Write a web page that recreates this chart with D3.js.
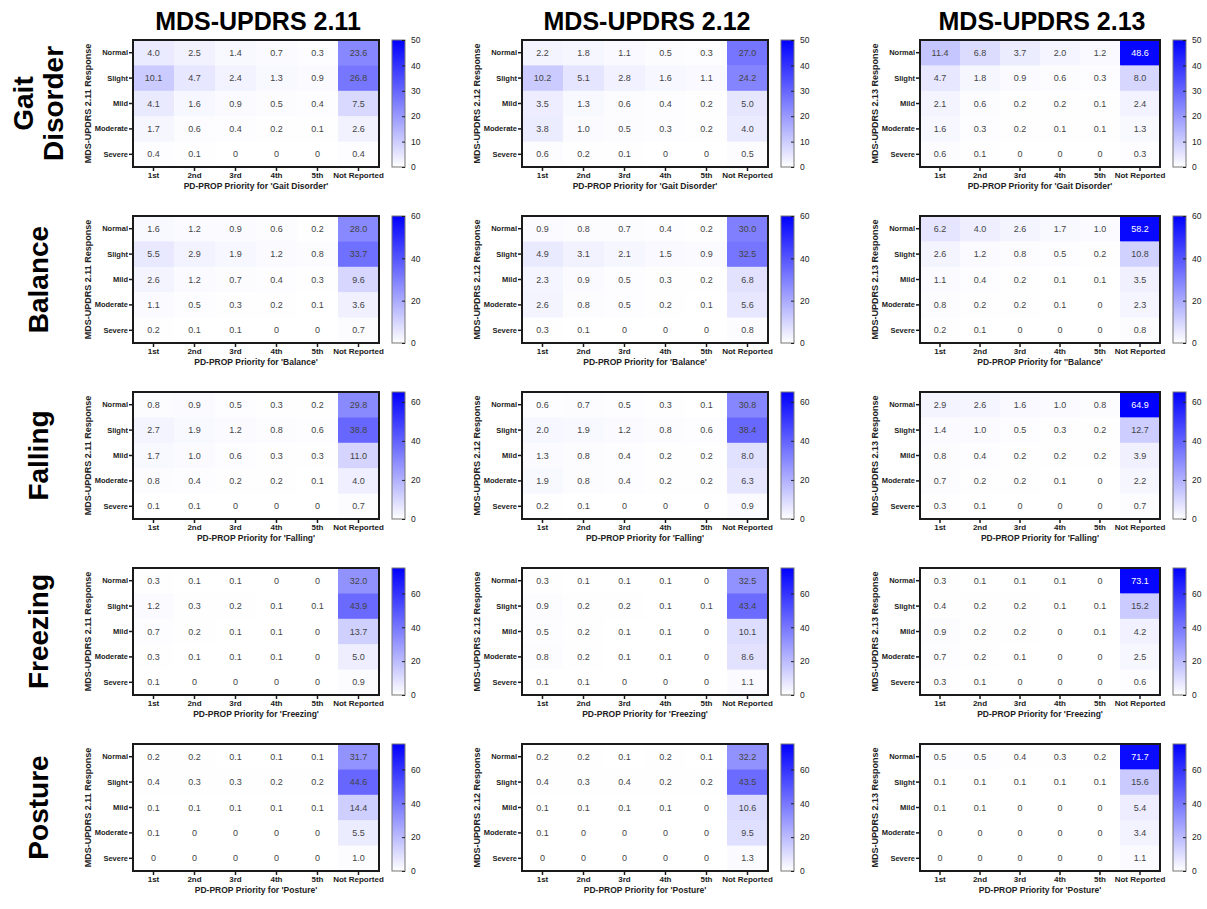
<!DOCTYPE html>
<html>
<head>
<meta charset="utf-8">
<script src="https://cdn.jsdelivr.net/npm/d3@7"></script>
<style>
  body { margin: 0; background: #fff; }
  svg { display: block; font-family: "Liberation Sans", Arial, sans-serif; }
  .tick text { fill: #222; }
</style>
</head>
<body>
<svg id="chart" width="1207" height="909"></svg>
<script>
// categories
var priorities = ["1st", "2nd", "3rd", "4th", "5th", "Not Reported"];
var responses = ["Normal", "Slight", "Mild", "Moderate", "Severe"];
var scaleNames = ["MDS-UPDRS 2.11", "MDS-UPDRS 2.12", "MDS-UPDRS 2.13"];
var items = ["Gait Disorder", "Balance", "Falling", "Freezing", "Posture"];
var itemLabels = [["Gait", "Disorder"], ["Balance"], ["Falling"], ["Freezing"], ["Posture"]];

// colour bar ranges per item row
var colorMax = [50, 60, 65, 75, 75];
var colorTicks = [[0, 10, 20, 30, 40, 50], [0, 20, 40, 60], [0, 20, 40, 60], [0, 20, 40, 60], [0, 20, 40, 60]];

// values (%), rows = responses, columns = priorities
var gait211 = [[4.0, 2.5, 1.4, 0.7, 0.3, 23.6], [10.1, 4.7, 2.4, 1.3, 0.9, 26.8], [4.1, 1.6, 0.9, 0.5, 0.4, 7.5], [1.7, 0.6, 0.4, 0.2, 0.1, 2.6], [0.4, 0.1, 0, 0, 0, 0.4]];
var gait212 = [[2.2, 1.8, 1.1, 0.5, 0.3, 27.0], [10.2, 5.1, 2.8, 1.6, 1.1, 24.2], [3.5, 1.3, 0.6, 0.4, 0.2, 5.0], [3.8, 1.0, 0.5, 0.3, 0.2, 4.0], [0.6, 0.2, 0.1, 0, 0, 0.5]];
var gait213 = [[11.4, 6.8, 3.7, 2.0, 1.2, 48.6], [4.7, 1.8, 0.9, 0.6, 0.3, 8.0], [2.1, 0.6, 0.2, 0.2, 0.1, 2.4], [1.6, 0.3, 0.2, 0.1, 0.1, 1.3], [0.6, 0.1, 0, 0, 0, 0.3]];
var balance211 = [[1.6, 1.2, 0.9, 0.6, 0.2, 28.0], [5.5, 2.9, 1.9, 1.2, 0.8, 33.7], [2.6, 1.2, 0.7, 0.4, 0.3, 9.6], [1.1, 0.5, 0.3, 0.2, 0.1, 3.6], [0.2, 0.1, 0.1, 0, 0, 0.7]];
var balance212 = [[0.9, 0.8, 0.7, 0.4, 0.2, 30.0], [4.9, 3.1, 2.1, 1.5, 0.9, 32.5], [2.3, 0.9, 0.5, 0.3, 0.2, 6.8], [2.6, 0.8, 0.5, 0.2, 0.1, 5.6], [0.3, 0.1, 0, 0, 0, 0.8]];
var balance213 = [[6.2, 4.0, 2.6, 1.7, 1.0, 58.2], [2.6, 1.2, 0.8, 0.5, 0.2, 10.8], [1.1, 0.4, 0.2, 0.1, 0.1, 3.5], [0.8, 0.2, 0.2, 0.1, 0, 2.3], [0.2, 0.1, 0, 0, 0, 0.8]];
var falling211 = [[0.8, 0.9, 0.5, 0.3, 0.2, 29.8], [2.7, 1.9, 1.2, 0.8, 0.6, 38.8], [1.7, 1.0, 0.6, 0.3, 0.3, 11.0], [0.8, 0.4, 0.2, 0.2, 0.1, 4.0], [0.1, 0.1, 0, 0, 0, 0.7]];
var falling212 = [[0.6, 0.7, 0.5, 0.3, 0.1, 30.8], [2.0, 1.9, 1.2, 0.8, 0.6, 38.4], [1.3, 0.8, 0.4, 0.2, 0.2, 8.0], [1.9, 0.8, 0.4, 0.2, 0.2, 6.3], [0.2, 0.1, 0, 0, 0, 0.9]];
var falling213 = [[2.9, 2.6, 1.6, 1.0, 0.8, 64.9], [1.4, 1.0, 0.5, 0.3, 0.2, 12.7], [0.8, 0.4, 0.2, 0.2, 0.2, 3.9], [0.7, 0.2, 0.2, 0.1, 0, 2.2], [0.3, 0.1, 0, 0, 0, 0.7]];
var freezing211 = [[0.3, 0.1, 0.1, 0, 0, 32.0], [1.2, 0.3, 0.2, 0.1, 0.1, 43.9], [0.7, 0.2, 0.1, 0.1, 0, 13.7], [0.3, 0.1, 0.1, 0.1, 0, 5.0], [0.1, 0, 0, 0, 0, 0.9]];
var freezing212 = [[0.3, 0.1, 0.1, 0.1, 0, 32.5], [0.9, 0.2, 0.2, 0.1, 0.1, 43.4], [0.5, 0.2, 0.1, 0.1, 0, 10.1], [0.8, 0.2, 0.1, 0.1, 0, 8.6], [0.1, 0.1, 0, 0, 0, 1.1]];
var freezing213 = [[0.3, 0.1, 0.1, 0.1, 0, 73.1], [0.4, 0.2, 0.2, 0.1, 0.1, 15.2], [0.9, 0.2, 0.2, 0, 0.1, 4.2], [0.7, 0.2, 0.1, 0, 0, 2.5], [0.3, 0.1, 0, 0, 0, 0.6]];
var posture211 = [[0.2, 0.2, 0.1, 0.1, 0.1, 31.7], [0.4, 0.3, 0.3, 0.2, 0.2, 44.6], [0.1, 0.1, 0.1, 0.1, 0.1, 14.4], [0.1, 0, 0, 0, 0, 5.5], [0, 0, 0, 0, 0, 1.0]];
var posture212 = [[0.2, 0.2, 0.1, 0.2, 0.1, 32.2], [0.4, 0.3, 0.4, 0.2, 0.2, 43.5], [0.1, 0.1, 0.1, 0.1, 0, 10.6], [0.1, 0, 0, 0, 0, 9.5], [0, 0, 0, 0, 0, 1.3]];
var posture213 = [[0.5, 0.5, 0.4, 0.3, 0.2, 71.7], [0.1, 0.1, 0.1, 0.1, 0.1, 15.6], [0.1, 0.1, 0, 0, 0, 5.4], [0, 0, 0, 0, 0, 3.4], [0, 0, 0, 0, 0, 1.1]];

var grid = [
	[gait211, gait212, gait213],
	[balance211, balance212, balance213],
	[falling211, falling212, falling213],
	[freezing211, freezing212, freezing213],
	[posture211, posture212, posture213]
];

// layout
var colLeft = [133, 522, 920];
var colWidth = [246, 246, 240];
var rowTop = [40, 216, 392, 568, 744];
var plotH = 127;

var svg = d3.select("#chart");

var grad = svg.append("defs").append("linearGradient")
	.attr("id", "cbar")
	.attr("x1", 0).attr("y1", 1).attr("x2", 0).attr("y2", 0);
grad.append("stop").attr("offset", "0%").attr("stop-color", "#ffffff");
grad.append("stop").attr("offset", "100%").attr("stop-color", "#0000ff");

// column titles
scaleNames.forEach(function(name, c) {
	svg.append("text")
		.attr("x", colLeft[c] + colWidth[c] / 2 + 2)
		.attr("y", 30)
		.attr("text-anchor", "middle")
		.style("font-size", "25px")
		.style("font-weight", "bold")
		.attr("fill", "#000")
		.text(name);
});

// row labels
itemLabels.forEach(function(lines, r) {
	var cy = rowTop[r] + plotH / 2;
	var t = svg.append("text")
		.attr("transform", "translate(0," + cy + ") rotate(-90)")
		.attr("text-anchor", "middle")
		.style("font-size", "28px")
		.style("font-weight", "bold")
		.attr("fill", "#000");
	if (lines.length == 2) {
		t.append("tspan").attr("x", 0).attr("y", 33).text(lines[0]);
		t.append("tspan").attr("x", 0).attr("y", 63).text(lines[1]);
	} else {
		t.append("tspan").attr("x", 0).attr("y", 48).text(lines[0]);
	}
});

function fmt(v) {
	return v === 0 ? "0" : v.toFixed(1);
}

grid.forEach(function(rowData, r) {
	rowData.forEach(function(values, c) {
		var left = colLeft[c], top = rowTop[r], w = colWidth[c];
		var maxV = colorMax[r];
		var g = svg.append("g").attr("transform", "translate(" + left + "," + top + ")");

		var x = d3.scaleBand().domain(priorities).range([0, w]);
		var y = d3.scaleBand().domain(responses).range([0, plotH]);
		var color = d3.scaleLinear().domain([0, maxV]).range(["#ffffff", "#0000ff"]);

		var cells = [];
		values.forEach(function(row, i) {
			row.forEach(function(v, j) {
				cells.push({ resp: responses[i], prio: priorities[j], v: v });
			});
		});

		g.selectAll("rect.cell").data(cells).enter().append("rect")
			.attr("class", "cell")
			.attr("x", function(d) { return x(d.prio); })
			.attr("y", function(d) { return y(d.resp); })
			.attr("width", x.bandwidth() + 0.5)
			.attr("height", y.bandwidth() + 0.5)
			.attr("fill", function(d) { return color(d.v); });

		g.selectAll("text.val").data(cells).enter().append("text")
			.attr("class", "val")
			.attr("x", function(d) { return x(d.prio) + x.bandwidth() / 2; })
			.attr("y", function(d) { return y(d.resp) + y.bandwidth() / 2; })
			.attr("dy", "0.35em")
			.attr("text-anchor", "middle")
			.style("font-size", "9px")
			.attr("fill", function(d) { return d.v / maxV > 0.75 ? "#fff" : "#444"; })
			.text(function(d) { return fmt(d.v); });

		// frame
		g.append("rect")
			.attr("width", w).attr("height", plotH)
			.attr("fill", "none")
			.attr("stroke", "#1a1a1a")
			.attr("stroke-width", 2);

		var xAxis = g.append("g")
			.attr("transform", "translate(0," + (plotH + 1) + ")")
			.call(d3.axisBottom(x).tickSize(3).tickPadding(1));
		xAxis.select(".domain").remove();
		xAxis.selectAll("line").attr("stroke", "#1a1a1a").attr("stroke-width", 1.5);
		xAxis.selectAll("text").style("font-size", "8px").style("font-weight", "bold");

		var yAxis = g.append("g")
			.attr("transform", "translate(-1,0)")
			.call(d3.axisLeft(y).tickSize(3).tickPadding(1));
		yAxis.select(".domain").remove();
		yAxis.selectAll("line").attr("stroke", "#1a1a1a").attr("stroke-width", 1.5);
		yAxis.selectAll("text").style("font-size", "7.5px").style("font-weight", "bold");

		var label = items[r];
		var xTitle = (c == 2 && r == 1) ? "PD-PROP Priority for ''" + label + "'" : "PD-PROP Priority for '" + label + "'";
		g.append("text")
			.attr("x", w / 2)
			.attr("y", plotH + 22)
			.attr("text-anchor", "middle")
			.style("font-size", "8.5px")
			.style("font-weight", "bold")
			.attr("fill", "#222")
			.text(xTitle);

		g.append("text")
			.attr("transform", "translate(-45," + (plotH / 2) + ") rotate(-90)")
			.attr("text-anchor", "middle")
			.attr("dy", "0.35em")
			.style("font-size", "9px")
			.style("font-weight", "bold")
			.attr("fill", "#222")
			.text(scaleNames[c] + " Response");

		// colour bar
		var cbX = w + 13, cbW = 13;
		var cb = g.append("g").attr("transform", "translate(" + cbX + ",0)");
		cb.append("rect")
			.attr("width", cbW).attr("height", plotH)
			.attr("fill", "url(#cbar)")
			.attr("stroke", "#777")
			.attr("stroke-width", 1);
		var cScale = d3.scaleLinear().domain([0, maxV]).range([plotH, 0]);
		var cAxis = cb.append("g")
			.attr("transform", "translate(" + cbW + ",0)")
			.call(d3.axisRight(cScale).tickValues(colorTicks[r]).tickSizeInner(-3).tickSizeOuter(0).tickPadding(6));
		cAxis.select(".domain").remove();
		cAxis.selectAll("line").attr("stroke", "#222");
		cAxis.selectAll("text").style("font-size", "8.5px").attr("fill", "#333");
	});
});
</script>
</body>
</html>
